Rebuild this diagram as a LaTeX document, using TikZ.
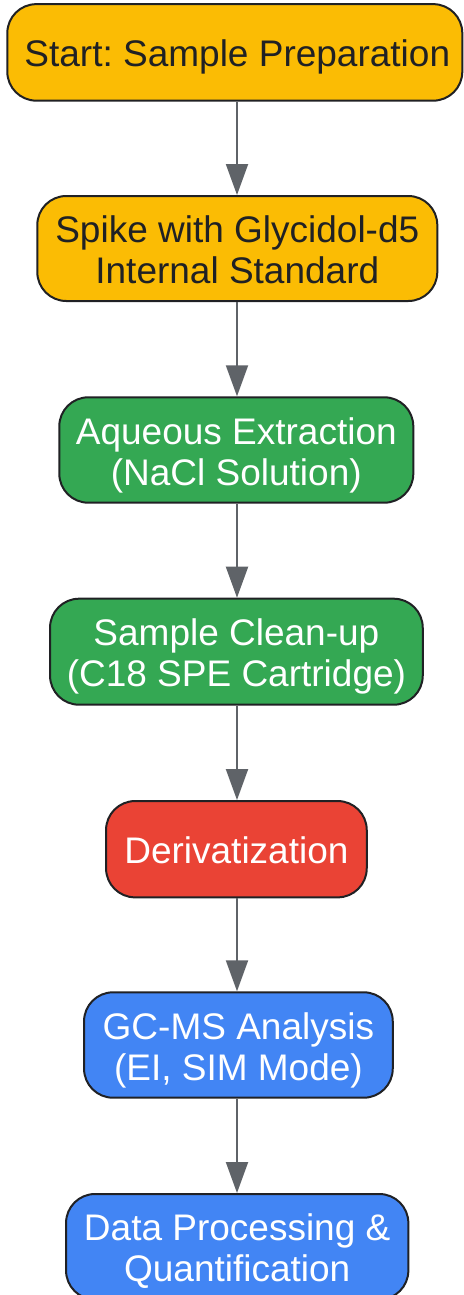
\documentclass[tikz,border=0pt]{standalone}
\usepackage{fontspec}
\setmainfont{Liberation Sans}
\usetikzlibrary{arrows.meta}
\definecolor{gyellow}{HTML}{FBBC04}
\definecolor{ggreen}{HTML}{34A853}
\definecolor{gred}{HTML}{EA4335}
\definecolor{gblue}{HTML}{4285F4}
\definecolor{gborder}{HTML}{202124}
\definecolor{garrow}{HTML}{5F6368}
\newcommand\lnstrut{\rule[-8pt]{0pt}{45pt}}
\setlength{\lineskiplimit}{-100pt}
\frenchspacing
\tikzset{
  stepbox/.style={draw=gborder, line width=2pt, rounded corners=29pt, align=center,
    font=\fontsize{37}{41}\selectfont, inner xsep=0pt, inner ysep=0pt},
  yel/.style={stepbox, fill=gyellow, text=gborder},
  grn/.style={stepbox, fill=ggreen, text=white},
  rd/.style={stepbox, fill=gred, text=white},
  blu/.style={stepbox, fill=gblue, text=white},
  flow/.style={draw=garrow, line width=2pt, -{Triangle[length=31pt,width=22pt]}}
}
\begin{document}
\frenchspacing
\begin{tikzpicture}[x=1pt,y=1pt]
\useasboundingbox (0,0) rectangle (463,-1295);
\node[yel, minimum width=455pt, minimum height=96.5pt] (n1) at (234.8,-52.4) {\hspace*{5pt}\lnstrut Start: Sample Preparation};
\node[yel, minimum width=400pt, minimum height=105pt] (n2) at (237.3,-248.5) {\lnstrut Spike with Glycidol-d5\\\lnstrut Internal Standard};
\node[grn, minimum width=354pt, minimum height=105.4pt] (n3) at (236.3,-450) {\lnstrut Aqueous Extraction\\\lnstrut (NaCl Solution)};
\node[grn, minimum width=372.7pt, minimum height=106pt] (n4) at (236.4,-651.7) {\lnstrut Sample Clean-up\\\lnstrut (C18 SPE Cartridge)};
\node[rd, minimum width=260.7pt, minimum height=96.3pt] (n5) at (236.4,-849.2) {\lnstrut Derivatization};
\node[blu, minimum width=308.7pt, minimum height=105.4pt] (n6) at (238.4,-1045) {\lnstrut GC-MS Analysis\\\lnstrut (EI, SIM Mode)};
\node[blu, minimum width=342.3pt, minimum height=105.5pt] (n7) at (237.2,-1246.75) {\lnstrut Data Processing \&\\\lnstrut Quantification};
\draw[flow] (n1.south -| 237,0) -- (n2.north -| 237,0);
\draw[flow] (n2.south -| 237,0) -- (n3.north -| 237,0);
\draw[flow] (n3.south -| 237,0) -- (n4.north -| 237,0);
\draw[flow] (n4.south -| 237,0) -- (n5.north -| 237,0);
\draw[flow] (n5.south -| 237,0) -- (n6.north -| 237,0);
\draw[flow] (n6.south -| 237,0) -- (n7.north -| 237,0);
\end{tikzpicture}
\end{document}
